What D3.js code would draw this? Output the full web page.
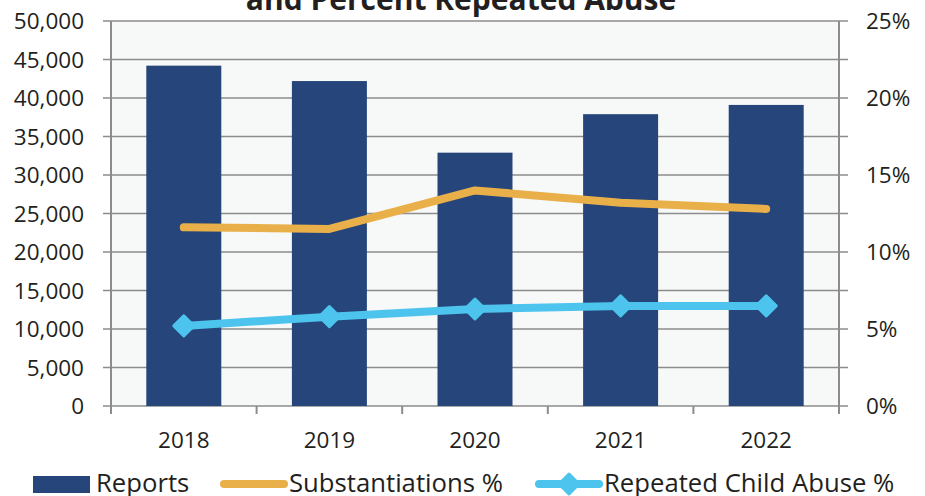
<!DOCTYPE html>
<html>
<head>
<meta charset="utf-8">
<script src="https://cdn.jsdelivr.net/npm/d3@7"></script>
<style>
  body { margin: 0; background: #fff; }
  svg { display: block; font-family: "Open Sans", Lato, sans-serif; }
</style>
</head>
<body>
<svg id="chart" width="925" height="496"></svg>
<script>
// Data
const years = ['2018', '2019', '2020', '2021', '2022'];
const reports = [44200, 42200, 32900, 37900, 39100];
const substantiations = [11.6, 11.5, 14.0, 13.2, 12.8];
const repeated = [5.2, 5.8, 6.3, 6.5, 6.5];
const leftTicks = [0, 5000, 10000, 15000, 20000, 25000, 30000, 35000, 40000, 45000, 50000];
const rightTicks = [0, 5, 10, 15, 20, 25];
const seriesNames = ['Reports', 'Substantiations %', 'Repeated Child Abuse %'];

const colors = { bar: '#26457a', orange: '#e9b04a', blue: '#4cc4ee', grid: '#8c8c8c', text: '#231f20' };
const plot = { left: 111, right: 839, top: 21, bottom: 406 };

const svg = d3.select('#chart');

// Scales
const x = d3.scaleBand().domain(years).range([plot.left, plot.right]);
const yL = d3.scaleLinear().domain([0, 50000]).range([plot.bottom, plot.top]);
const yR = d3.scaleLinear().domain([0, 25]).range([plot.bottom, plot.top]);
const barW = x.bandwidth() * 0.515;

// Plot background
svg.append('rect')
  .attr('x', plot.left).attr('y', plot.top)
  .attr('width', plot.right - plot.left).attr('height', plot.bottom - plot.top)
  .attr('fill', '#f7f8f8');

// Horizontal gridlines
svg.append('g')
  .selectAll('line')
  .data(leftTicks)
  .join('line')
    .attr('x1', plot.left - 8).attr('x2', plot.right + 9)
    .attr('y1', d => yL(d)).attr('y2', d => yL(d))
    .attr('stroke', colors.grid).attr('stroke-width', 1.5);

// Bars
svg.append('g')
  .selectAll('rect')
  .data(reports)
  .join('rect')
    .attr('x', (d, i) => x(years[i]) + (x.bandwidth() - barW) / 2)
    .attr('y', d => yL(d))
    .attr('width', barW)
    .attr('height', d => yL(0) - yL(d))
    .attr('fill', colors.bar);

// Axis lines
svg.append('line')
  .attr('x1', plot.left).attr('x2', plot.left)
  .attr('y1', plot.top).attr('y2', plot.bottom + 8)
  .attr('stroke', colors.grid).attr('stroke-width', 2);
svg.append('line')
  .attr('x1', plot.right).attr('x2', plot.right)
  .attr('y1', plot.top).attr('y2', plot.bottom + 8)
  .attr('stroke', colors.grid).attr('stroke-width', 2);

// X tick marks at band edges
svg.append('g')
  .selectAll('line')
  .data(years.slice(1))
  .join('line')
    .attr('x1', d => x(d)).attr('x2', d => x(d))
    .attr('y1', plot.bottom).attr('y2', plot.bottom + 8)
    .attr('stroke', colors.grid).attr('stroke-width', 2);

// Left tick labels
svg.append('g')
  .selectAll('text')
  .data(leftTicks)
  .join('text')
    .attr('x', 84).attr('y', d => yL(d))
    .attr('dy', '0.36em')
    .attr('text-anchor', 'end')
    .attr('font-size', 22.5)
    .attr('fill', colors.text)
    .text(d => d3.format(',')(d));

// Right tick labels
svg.append('g')
  .selectAll('text')
  .data(rightTicks)
  .join('text')
    .attr('x', 866).attr('y', d => yR(d))
    .attr('dy', '0.36em')
    .attr('font-size', 22.5)
    .attr('fill', colors.text)
    .text(d => d + '%');

// Category labels
svg.append('g')
  .selectAll('text')
  .data(years)
  .join('text')
    .attr('x', d => x(d) + x.bandwidth() / 2).attr('y', 448)
    .attr('text-anchor', 'middle')
    .attr('font-size', 22.5)
    .attr('fill', colors.text)
    .text(d => d);

// Lines
const cx = i => x(years[i]) + x.bandwidth() / 2;
const lineSub = d3.line().x((d, i) => cx(i)).y(d => yR(d));

svg.append('path')
  .attr('d', lineSub(substantiations))
  .attr('fill', 'none').attr('stroke', colors.orange)
  .attr('stroke-width', 8).attr('stroke-linecap', 'round').attr('stroke-linejoin', 'round');

svg.append('path')
  .attr('d', lineSub(repeated))
  .attr('fill', 'none').attr('stroke', colors.blue)
  .attr('stroke-width', 8).attr('stroke-linecap', 'round').attr('stroke-linejoin', 'round');

const diamond = d3.symbol().type(d3.symbolSquare).size(200);
svg.append('g')
  .selectAll('path')
  .data(repeated)
  .join('path')
    .attr('d', diamond)
    .attr('transform', (d, i) => `translate(${cx(i)},${yR(d)}) rotate(45)`)
    .attr('fill', colors.blue)
    .attr('stroke', colors.blue).attr('stroke-width', 3).attr('stroke-linejoin', 'round');

// Title (only its second line falls inside the picture)
svg.append('text')
  .attr('x', 461).attr('y', 10)
  .attr('text-anchor', 'middle')
  .attr('font-size', 30).attr('font-weight', 'bold')
  .attr('fill', colors.text)
  .text('and Percent Repeated Abuse');

// Legend
const legend = svg.append('g').attr('font-size', 25.7).attr('fill', colors.text);
legend.append('rect')
  .attr('x', 33).attr('y', 476).attr('width', 57).attr('height', 17)
  .attr('fill', colors.bar);
legend.append('text').attr('x', 96).attr('y', 492).text(seriesNames[0]);

legend.append('line')
  .attr('x1', 224).attr('x2', 284).attr('y1', 484).attr('y2', 484)
  .attr('stroke', colors.orange).attr('stroke-width', 8).attr('stroke-linecap', 'round');
legend.append('text').attr('x', 289).attr('y', 492).text(seriesNames[1]);

legend.append('line')
  .attr('x1', 539).attr('x2', 599).attr('y1', 484).attr('y2', 484)
  .attr('stroke', colors.blue).attr('stroke-width', 8).attr('stroke-linecap', 'round');
legend.append('path')
  .attr('d', diamond)
  .attr('transform', 'translate(569,484) rotate(45)')
  .attr('fill', colors.blue)
  .attr('stroke', colors.blue).attr('stroke-width', 3).attr('stroke-linejoin', 'round');
legend.append('text').attr('x', 604).attr('y', 492).text(seriesNames[2]);
</script>
</body>
</html>
